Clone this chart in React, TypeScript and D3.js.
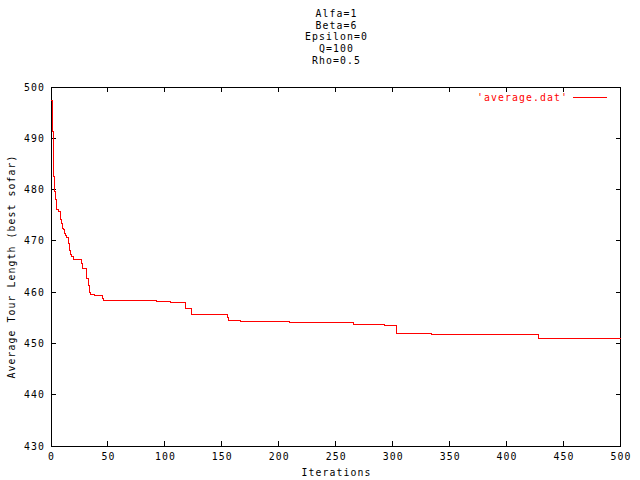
import React from "react";
import * as d3 from "d3";

const titleLines = ["Alfa=1", "Beta=6", "Epsilon=0", "Q=100", "Rho=0.5"];
const xTicks = [0, 50, 100, 150, 200, 250, 300, 350, 400, 450, 500];
const yTicks = [430, 440, 450, 460, 470, 480, 490, 500];
const iterations = [0, 1, 2, 3, 4, 5, 7, 8, 9, 10, 11, 12, 13, 14, 15, 16, 17, 18, 20, 27, 28, 31, 33, 34, 35, 38, 45, 46, 93, 105, 118, 123, 155, 156, 166, 209, 266, 293, 303, 334, 428, 500];
const values = [497.3, 491.3, 482.5, 479.6, 478.0, 476.1, 475.7, 474.2, 473.4, 472.5, 472.2, 471.5, 471.0, 470.7, 469.5, 468.1, 467.4, 467.0, 466.4, 465.6, 464.7, 462.6, 461.2, 460.0, 459.5, 459.3, 458.8, 458.4, 458.1, 457.9, 456.9, 455.6, 455.0, 454.5, 454.3, 454.0, 453.6, 453.4, 452.0, 451.7, 451.0, 451.0];
const legendLabel = "'average.dat'";

const W = 640, H = 480;
const L = 51, R = 620.5, T = 87, B = 446;
const FONT = "'DejaVu Sans Mono', monospace";
const FS = 9.8;
const LS = 1.1;

export default function App() {
  const x = d3.scaleLinear().domain([0, 500]).range([L, R]);
  const y = d3.scaleLinear().domain([430, 500]).range([B, T]);
  const pts: [number, number][] = iterations.map((it, i) => [it, values[i]]);
  const line = d3
    .line<[number, number]>()
    .x((d) => x(d[0]))
    .y((d) => y(d[1]))
    .curve(d3.curveStepAfter);
  const tl = 5;
  return (
    <svg
      width={W}
      height={H}
      style={{ position: "absolute", left: 0, top: 0, background: "#fff" }}
      fontFamily={FONT}
      fontSize={FS}
      letterSpacing={LS}
    >
      <rect x={0} y={0} width={W} height={H} fill="#fff" />
      {titleLines.map((t, i) => (
        <text key={t} x={336.5} y={17 + i * 11.7} textAnchor="middle" fill="#000">
          {t}
        </text>
      ))}
      <g shapeRendering="crispEdges" stroke="#000" strokeWidth={1}>
        {xTicks.map((t) => (
          <g key={"x" + t}>
            <line x1={x(t)} x2={x(t)} y1={B} y2={B - tl} />
            <line x1={x(t)} x2={x(t)} y1={T} y2={T + tl} />
          </g>
        ))}
        {yTicks.map((t) => (
          <g key={"y" + t}>
            <line x1={L} x2={L + tl} y1={y(t)} y2={y(t)} />
            <line x1={R} x2={R - tl} y1={y(t)} y2={y(t)} />
          </g>
        ))}
        <rect x={L} y={T} width={R - L} height={B - T} fill="none" />
      </g>
      {xTicks.map((t) => (
        <text key={"xl" + t} x={x(t) + 0.5} y={460} textAnchor="middle" fill="#000">
          {t}
        </text>
      ))}
      {yTicks.map((t) => (
        <text key={"yl" + t} x={45} y={y(t) + 3.5} textAnchor="end" fill="#000">
          {t}
        </text>
      ))}
      <text x={336.5} y={476} textAnchor="middle" fill="#000">
        Iterations
      </text>
      <text
        transform={`translate(15, ${(T + B) / 2}) rotate(-90)`}
        textAnchor="middle"
        fill="#000"
      >
        Average Tour Length (best sofar)
      </text>
      <path d={line(pts) ?? ""} fill="none" stroke="#ff0000" strokeWidth={1} shapeRendering="crispEdges" />
      <text x={568} y={100.5} textAnchor="end" fill="#ff0000">
        {legendLabel}
      </text>
      <line x1={573} x2={607} y1={97.5} y2={97.5} stroke="#ff0000" strokeWidth={1} shapeRendering="crispEdges" />
    </svg>
  );
}
